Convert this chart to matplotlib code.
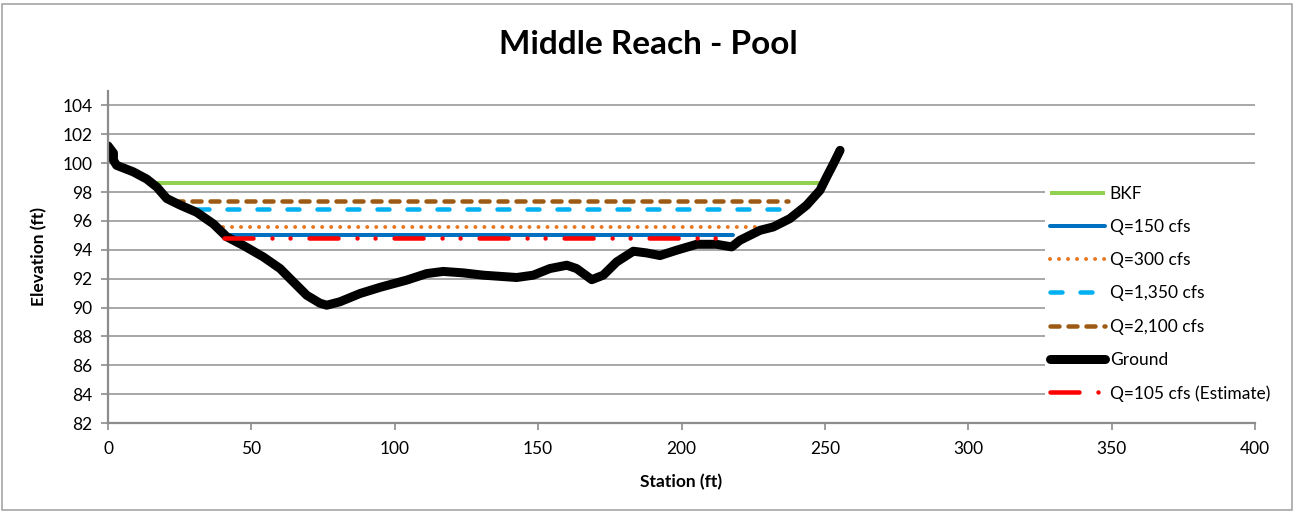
import numpy as np
import matplotlib
matplotlib.use("Agg")
import matplotlib.pyplot as plt
from matplotlib.patches import Rectangle

plt.rcParams['font.family'] = ['Lato', 'DejaVu Sans']
plt.rcParams['lines.scale_dashes'] = False

# Ground profile (station ft, elevation ft)
ground_sta = [0, 1.9, 1.9, 3.0, 8.8, 13.5, 17, 20.5, 25.1, 30.9, 36.7, 41.4, 47.2,
              54.2, 60, 63.5, 69.3, 73.9, 76.3, 80.9, 87.9, 94.9, 104.2, 111.1,
              116.9, 123.9, 130.9, 142.5, 148.3, 154.1, 160, 163.4, 168.7, 172.7,
              177.4, 183.2, 187.9, 192.5, 198.3, 205.3, 212.2, 217.5, 220.4,
              227.4, 232, 237.8, 243.6, 248.3, 250.6, 253, 255.3]
ground_elev = [101.2, 100.7, 100.2, 99.85, 99.4, 98.9, 98.35, 97.55, 97.1, 96.6,
               95.8, 94.9, 94.3, 93.5, 92.7, 92.0, 90.85, 90.3, 90.16, 90.4, 90.97,
               91.4, 91.9, 92.35, 92.5, 92.4, 92.24, 92.08, 92.24, 92.7, 92.93,
               92.7, 91.93, 92.24, 93.16, 93.9, 93.78, 93.6, 93.97, 94.38, 94.38,
               94.2, 94.66, 95.35, 95.58, 96.16, 97.08, 98.12, 99.04, 99.96, 100.89]

# Water surface lines: (start station, end station), elevation
bkf_sta, bkf_elev = [17, 249], 98.6
q150_sta, q150_elev = [40.5, 218], 95.03
q300_sta, q300_elev = [40, 226], 95.56
q1350_sta, q1350_elev = [31, 240], 96.83
q2100_sta, q2100_elev = [23, 237], 97.35
q105_sta, q105_elev = [40.5, 213], 94.85

fig = plt.figure(figsize=(12.96, 5.14), dpi=100)
ax = fig.add_axes([108 / 1296, 1 - 423 / 514, (1255 - 108) / 1296, (423 - 91) / 514])

px = 0.72  # points per pixel
ax.plot(bkf_sta, [bkf_elev] * 2, color='#92D050', lw=4 * px, solid_capstyle='butt', label='BKF')
ax.plot(q150_sta, [q150_elev] * 2, color='#0070C0', lw=4 * px, solid_capstyle='round', label='Q=150 cfs')
ax.plot(q300_sta, [q300_elev] * 2, color='#E87722', lw=4 * px, dash_capstyle='round',
        dashes=(0.01, 9 * px), label='Q=300 cfs')
ax.plot(q1350_sta, [q1350_elev] * 2, color='#00B0F0', lw=4.5 * px, dash_capstyle='round',
        dashes=(12 * px, 18 * px), label='Q=1,350 cfs')
ax.plot(q2100_sta, [q2100_elev] * 2, color='#9C5A14', lw=4.5 * px, dash_capstyle='round',
        dashes=(9 * px, 9 * px), label='Q=2,100 cfs')
ax.plot(ground_sta, ground_elev, color='black', lw=9 * px, solid_capstyle='round',
        solid_joinstyle='round', label='Ground')
ax.plot(q105_sta, [q105_elev] * 2, color='#FF0000', lw=4.5 * px, dash_capstyle='round',
        dashes=(29 * px, 19 * px, 0.01, 18 * px, 0.01, 19 * px), label='Q=105 cfs (Estimate)')

ax.set_xlim(0, 400)
ax.set_ylim(82, 105)
ax.set_xticks(np.arange(0, 401, 50))
ax.set_yticks(np.arange(82, 105, 2))
ax.grid(axis='y', color='#A0A0A0', lw=1.3)
ax.set_axisbelow(True)
for s in ['top', 'right']:
    ax.spines[s].set_visible(False)
for s in ['left', 'bottom']:
    ax.spines[s].set_color('#8C8C8C')
    ax.spines[s].set_linewidth(1.6)
ax.tick_params(colors='#8C8C8C', labelcolor='black', labelsize=12.5, length=5, width=1.2)
ax.tick_params(axis='x', pad=8)
ax.tick_params(axis='y', pad=6)

ax.set_xlabel('Station (ft)', fontsize=12.5, fontweight='bold', labelpad=12)
ax.set_ylabel('Elevation (ft)', fontsize=12.5, fontweight='bold', labelpad=11)
fig.text(0.5, 1 - 45 / 514, 'Middle Reach - Pool', ha='center', va='center',
         fontsize=24, fontweight='bold')

leg = ax.legend(loc='upper left', bbox_to_anchor=(1036 / 1296, 1 - 172 / 514),
                bbox_transform=fig.transFigure, frameon=True, facecolor='white',
                edgecolor='none', framealpha=1, fancybox=False, fontsize=12.5,
                handlelength=3.2, handletextpad=0.25, labelspacing=0.99, borderpad=0.3)

fig.patches.append(Rectangle((2 / 1296, 4 / 514), 1290 / 1296, 506 / 514,
                             transform=fig.transFigure, fill=False,
                             edgecolor='#A6A6A6', lw=1.2))

fig.savefig('out.png', dpi=100)
